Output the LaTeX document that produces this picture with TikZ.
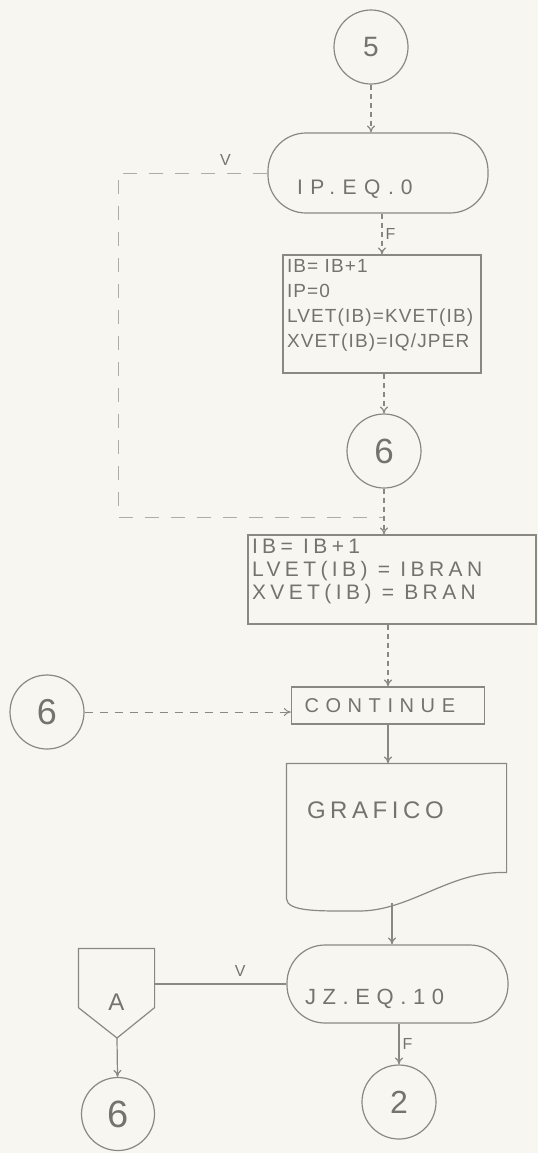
\documentclass[tikz,border=0pt]{standalone}
\usepackage{fontspec}
\setmainfont{Liberation Sans}
\newfontfamily\hand{Liberation Sans}
\usetikzlibrary{arrows.meta}
\definecolor{pencil}{HTML}{8A8882}
\definecolor{lead}{HTML}{75736D}
\definecolor{paper}{HTML}{F8F6F0}
% put a text line below or above the middle of its node
\newcommand\dropby[2]{\raisebox{-#1}[0pt][0pt]{#2}}
\begin{document}
\begin{tikzpicture}[x=0.5pt, y=-0.5pt, color=pencil, line width=0.6pt,
            every node/.style={text=lead, font=\hand},
            conn/.style={circle, draw=pencil, minimum size=37pt, inner sep=0pt},
            term/.style={draw=pencil, rounded corners=19pt, align=left, minimum height=39pt},
            proc/.style={draw=pencil, inner sep=2pt},
            flow/.style={-{To[length=3.5pt,width=4pt]}},
            dflow/.style={flow, dash pattern=on 2.5pt off 2pt},
            tag/.style={font=\hand\fontsize{8}{9}\selectfont, inner sep=1.5pt}]
  \fill[paper] (0,0) rectangle (538,1153);

  \node[conn, font=\hand\fontsize{14}{16}\selectfont] (c5) at (371,47) {5};
  \node[term, minimum height=40pt, text width=81pt, inner xsep=14.5pt,
        font=\hand\fontsize{10.5}{12}\selectfont\addfontfeature{LetterSpace=36}] (ipeq) at (378,173)
        {\dropby{10.75pt}{IP.EQ. 0}};
  \node[proc] (incr) at (382,314)
        {\parbox[c][55pt][t]{95pt}{\hand\fontsize{9.5}{10.5}\selectfont\addfontfeature{LetterSpace=6}
         IB= IB+1\\[2pt] IP=0\\[2pt] LVET(IB)=KVET(IB)\\[2pt] XVET(IB)=IQ/JPER}};
  \node[conn, font=\hand\fontsize{17.5}{19}\selectfont] (c6a) at (384,451) {6};
  \node[proc] (bran) at (392,579.5)
        {\parbox[c][40.5pt][t]{140pt}{\hand\fontsize{10.5}{11.5}\selectfont\addfontfeature{LetterSpace=21}
         IB= IB+1\\ LVET(IB) = IBRAN\\ XVET(IB) = BRAN}};
  \node[conn, font=\hand\fontsize{18}{20}\selectfont] (c6b) at (47,712) {6};
  \node[proc, minimum width=96pt, minimum height=18.5pt, text width=83.5pt, inner xsep=6.5pt, align=left,
        font=\hand\fontsize{10}{12}\selectfont\addfontfeature{LetterSpace=33}] (cont) at (388,705.5) {CONTINUE};
  \node[minimum width=109.5pt, minimum height=67pt, text width=89.5pt, inner xsep=10pt, align=left,
        font=\hand\fontsize{12}{14}\selectfont\addfontfeature{LetterSpace=19}] (graf) at (396.5,831)
        {\raisebox{6.2pt}[0pt][0pt]{GRAFICO}};
  \node[term, minimum height=39pt, text width=92.5pt, inner xsep=9pt,
        font=\hand\fontsize{11}{13}\selectfont\addfontfeature{LetterSpace=30}] (jzeq) at (397.5,984)
        {\dropby{10.45pt}{JZ.EQ.10}};
  \node[minimum width=37.5pt, minimum height=29pt, inner sep=0pt,
        font=\hand\fontsize{12}{14}\selectfont] (offa) at (116.5,978) {\dropby{16.3pt}{A}};
  \coordinate (atip) at (117,1038);
  \node[conn, minimum size=36.5pt, font=\hand\fontsize{19}{21}\selectfont] (c6c) at (118,1114) {6};
  \node[conn, font=\hand\fontsize{16}{18}\selectfont] (c2) at (399,1102) {2};

  % printed page and off-page connector
  \draw (graf.south west) -- (graf.north west) -- (graf.north east) -- ([yshift=13pt]graf.south east)
        .. controls (450,870) and (410,912) .. (357,911)
        .. controls (320,911) and (287,912) .. (graf.south west);
  \draw (offa.south west) -- (offa.north west) -- (offa.north east) -- (offa.south east) -- (atip) -- cycle;

  \coordinate (back) at (118,517);
  \coordinate (gbot) at (392,903);
  \draw[dflow] (c5) -- (c5 |- ipeq.north);
  \draw[pencil!70, line width=0.45pt, dash pattern=on 7pt off 6pt] (ipeq.west) -| node[pos=0.14, above, tag, yshift=2pt] {V} (back) -- (back -| c6a);
  \draw[dflow] (incr.north |- ipeq.south) -- node[right, tag] {F} (incr.north);
  \draw[dflow] (c6a |- incr.south) -- (c6a.north);
  \draw[dflow] (c6a) -- (c6a |- bran.north);
  \draw[dflow] (cont.north |- bran.south) -- (cont.north);
  \draw[flow, line width=0.5pt, dash pattern=on 4pt off 3.5pt] (c6b) -- (c6b -| cont.west);
  \draw[flow] (cont.south) -- (cont.south |- graf.north);
  \draw[flow] (gbot) -- (gbot |- jzeq.north);
  \draw (jzeq.west) -- node[pos=0.35, above, tag, yshift=2pt] {V} (jzeq.west -| offa.east);
  \draw[flow] (atip) -- (c6c);
  \draw[flow] (c2 |- jzeq.south) -- node[right, tag] {F} (c2.north);
\end{tikzpicture}
\end{document}
